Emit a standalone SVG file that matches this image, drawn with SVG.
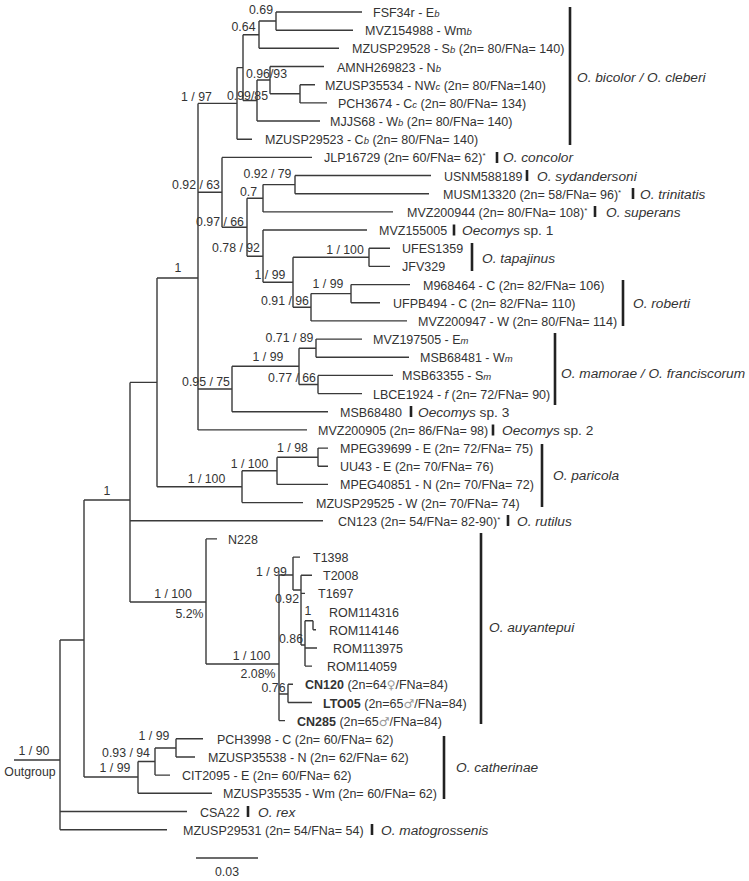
<svg xmlns="http://www.w3.org/2000/svg" width="749" height="881" viewBox="0 0 749 881">
<style>
text{font-family:"Liberation Sans",Arial,sans-serif;fill:#333}
.t{font-size:12.5px}
.s{font-size:12.3px;text-anchor:middle}
.c{font-size:13.7px;font-style:italic}
.i{font-style:italic;font-size:9.5px}
.u{font-size:8px}
.bd{font-weight:bold}
.sx{fill:#999;font-family:"DejaVu Sans",sans-serif;font-size:12px}
.br{fill:none;stroke:#3a3a3a;stroke-width:1.4}
.bar{stroke:#222;stroke-width:2.6}
</style>
<rect width="749" height="881" fill="#fff"/>
<g id="connectors" class="br">
<path d="M276 12V30.2M259 21V48.3M300 84.7V102.9M270 66.5V93.8M257 80V121M243 34.7V100.5M237 67.6V139.2M198 103.4V429.9M222 157.4V227.2M247 198.2V256.2M263 184.6V211.9M295 175.5V193.7M263 230V282.3M293 257.3V307.3M369 248.2V266.4M311 293.6V320.9M351 284.6V302.7M232 366.3V411.7M299 348.2V384.5M316 339.1V357.2M318 375.4V393.6M157 278V486.7M242 470.8V502.6M277 457.2V484.4M318 448.1V466.3M130 382.4V602M206 538.9V664M279 575V720.6M293 557.1V590M301 575.3V645M305 620.7V666.1M313 620.7V629.8M288 684.3V702.5M84 500V777M138 761.5V793.3M155 748V775.1M176 738.8V757M60 640V829.7"/>
<path d="M259 21H276M243 34.7H259M270 93.8H300M257 80H270M243 100.5H257M237 67.6H243M198 103.4H237M198 192.3H222M222 227.2H247M247 198.2H263M263 184.6H295M247 256.2H263M263 282.3H293M293 257.3H369M293 307.3H311M311 293.6H351M198 389H232M232 366.3H299M299 348.2H316M299 384.5H318M157 278H198M157 486.7H242M242 470.8H277M277 457.2H318M130 382.4H157M84 500H130M130 602H206M206 664H279M279 575H293M293 590H301M301 645H305M305 620.7H313M279 694H288M60 640H84M84 777H138M138 761.5H155M155 748H176M14 760H60"/>
<path d="M276 12H362M276 30.2H353M259 48.3H339M270 66.5H324M300 84.7H315M300 102.9H327M257 121H320M237 139.2H252M222 157.4H312M295 175.5H431M295 193.7H429M263 211.9H393M263 230H367M369 248.2H390M369 266.4H390M351 284.6H410M351 302.7H380M311 320.9H407M316 339.1H362M316 357.2H409M318 375.4H393M318 393.6H362M232 411.7H328M198 429.9H307M318 448.1H328M318 466.3H328M277 484.4H328M242 502.6H303M130 520.8H323M206 538.9H217M293 557.1H300M301 575.3H312M301 593.4H305M313 629.8H316M305 648H317M305 666.1H312M288 684.3H293M288 702.5H312M279 720.6H285M176 738.8H203M176 757H195M155 775.1H170M138 793.3H212M60 811.5H187M60 829.7H167"/>
</g>
<g id="node-A"><text class="s" x="261" y="13.5">0.69</text></g>
<g id="node-B"><text class="s" x="243.5" y="30.5">0.64</text></g>
<g id="node-C"><text class="s" x="266.5" y="77.5">0.96/93</text></g>
<g id="node-E"><text class="s" x="247.5" y="99.5">0.99/85</text></g>
<g id="node-G"><text class="s" x="196.5" y="100.5">1 / 97</text></g>
<g id="node-H"><text class="s" x="196" y="188.5">0.92 / 63</text></g>
<g id="node-J"><text class="s" x="267.5" y="177.5">0.92 / 79</text></g>
<g id="node-L"><text class="s" x="248.5" y="195.5">0.7</text></g>
<g id="node-I"><text class="s" x="220" y="225.5">0.97 / 66</text></g>
<g id="node-K"><text class="s" x="236" y="251.5">0.78 / 92</text></g>
<g id="node-N"><text class="s" x="345" y="253.5">1 / 100</text></g>
<g id="node-M"><text class="s" x="270" y="278.5">1 / 99</text></g>
<g id="node-P"><text class="s" x="328" y="287.5">1 / 99</text></g>
<g id="node-O"><text class="s" x="285" y="304.5">0.91 / 96</text></g>
<g id="node-S"><text class="s" x="289.5" y="341.5">0.71 / 89</text></g>
<g id="node-R"><text class="s" x="268" y="360.5">1 / 99</text></g>
<g id="node-T"><text class="s" x="292" y="381.5">0.77 / 66</text></g>
<g id="node-Q"><text class="s" x="206" y="385.5">0.95 / 75</text></g>
<g id="node-Y"><text class="s" x="178" y="271.5">1</text></g>
<g id="node-U"><text class="s" x="292.5" y="451.5">1 / 98</text></g>
<g id="node-V"><text class="s" x="249.5" y="467.5">1 / 100</text></g>
<g id="node-W"><text class="s" x="206.5" y="482.5">1 / 100</text></g>
<g id="node-X"/>
<g id="node-Z"><text class="s" x="107" y="494.5">1</text></g>
<g id="node-AA"><text class="s" x="173" y="597.5">1 / 100</text><text class="s" x="189.5" y="617.5">5.2%</text></g>
<g id="node-AC"><text class="s" x="271.5" y="575.5">1 / 99</text></g>
<g id="node-AE"><text class="s" x="287" y="602.5">0.92</text></g>
<g id="node-AG"><text class="s" x="308" y="614.5">1</text></g>
<g id="node-AF"><text class="s" x="291" y="642.5">0.86</text></g>
<g id="node-AB"><text class="s" x="251.5" y="659.5">1 / 100</text><text class="s" x="258" y="677.5">2.08%</text></g>
<g id="node-AD"><text class="s" x="273.5" y="691.5">0.76</text></g>
<g id="node-AJ"><text class="s" x="154" y="739.5">1 / 99</text></g>
<g id="node-AI"><text class="s" x="126" y="756.5">0.93 / 94</text></g>
<g id="node-AH"><text class="s" x="115" y="771.5">1 / 99</text></g>
<g id="node-BA"/>
<g id="node-root"><text class="s" x="34" y="754.5">1 / 90</text><text class="s" x="30" y="775.5">Outgroup</text></g>
<g id="leaves" class="t">
<g id="leaf-FSF34r"><text x="373" y="17">FSF34r - E<tspan class="i">b</tspan></text></g>
<g id="leaf-MVZ154988"><text x="365" y="35.2">MVZ154988 - Wm<tspan class="i">b</tspan></text></g>
<g id="leaf-MZUSP29528"><text x="352" y="53.3">MZUSP29528 - S<tspan class="i">b</tspan> (2n= 80/FNa= 140)</text></g>
<g id="leaf-AMNH269823"><text x="337" y="71.5">AMNH269823 - N<tspan class="i">b</tspan></text></g>
<g id="leaf-MZUSP35534"><text x="325" y="89.7">MZUSP35534 - NW<tspan class="i">c</tspan> (2n= 80/FNa=140)</text></g>
<g id="leaf-PCH3674"><text x="338" y="107.9">PCH3674 - C<tspan class="i">c</tspan> (2n= 80/FNa= 134)</text></g>
<g id="leaf-MJJS68"><text x="330" y="126">MJJS68 - W<tspan class="i">b</tspan> (2n= 80/FNa= 140)</text></g>
<g id="leaf-MZUSP29523"><text x="265" y="144.2">MZUSP29523 - C<tspan class="i">b</tspan> (2n= 80/FNa= 140)</text></g>
<g id="leaf-JLP16729"><text x="324" y="162.4">JLP16729 (2n= 60/FNa= 62)<tspan class="u" dy="-4">*</tspan></text></g>
<g id="leaf-USNM588189"><text x="444" y="180.5">USNM588189</text></g>
<g id="leaf-MUSM13320"><text x="443" y="198.7">MUSM13320 (2n= 58/FNa= 96)<tspan class="u" dy="-4">*</tspan></text></g>
<g id="leaf-MVZ200944"><text x="407" y="216.9">MVZ200944 (2n= 80/FNa= 108)<tspan class="u" dy="-4">*</tspan></text></g>
<g id="leaf-MVZ155005"><text x="379" y="235">MVZ155005</text></g>
<g id="leaf-UFES1359"><text x="402" y="253.2">UFES1359</text></g>
<g id="leaf-JFV329"><text x="402" y="271.4">JFV329</text></g>
<g id="leaf-M968464"><text x="423" y="289.6">M968464 - C (2n= 82/FNa= 106)</text></g>
<g id="leaf-UFPB494"><text x="393" y="307.7">UFPB494 - C (2n= 82/FNa= 110)</text></g>
<g id="leaf-MVZ200947"><text x="418" y="325.9">MVZ200947 - W (2n= 80/FNa= 114)</text></g>
<g id="leaf-MVZ197505"><text x="373" y="344.1">MVZ197505 - E<tspan class="i">m</tspan></text></g>
<g id="leaf-MSB68481"><text x="420" y="362.2">MSB68481 - W<tspan class="i">m</tspan></text></g>
<g id="leaf-MSB63355"><text x="402" y="380.4">MSB63355 - S<tspan class="i">m</tspan></text></g>
<g id="leaf-LBCE1924"><text x="373" y="398.6">LBCE1924 - <tspan font-style="italic">f</tspan> (2n= 72/FNa= 90)</text></g>
<g id="leaf-MSB68480"><text x="340" y="416.7">MSB68480</text></g>
<g id="leaf-MVZ200905"><text x="318" y="434.9">MVZ200905 (2n= 86/FNa= 98)</text></g>
<g id="leaf-MPEG39699"><text x="340" y="453.1">MPEG39699 - E (2n= 72/FNa= 75)</text></g>
<g id="leaf-UU43"><text x="340" y="471.3">UU43 - E (2n= 70/FNa= 76)</text></g>
<g id="leaf-MPEG40851"><text x="340" y="489.4">MPEG40851 - N (2n= 70/FNa= 72)</text></g>
<g id="leaf-MZUSP29525"><text x="316" y="507.6">MZUSP29525 - W (2n= 70/FNa= 74)</text></g>
<g id="leaf-CN123"><text x="338" y="525.8">CN123 (2n= 54/FNa= 82-90)<tspan class="u" dy="-4">*</tspan></text></g>
<g id="leaf-N228"><text x="228" y="543.9">N228</text></g>
<g id="leaf-T1398"><text x="313" y="562.1">T1398</text></g>
<g id="leaf-T2008"><text x="323" y="580.3">T2008</text></g>
<g id="leaf-T1697"><text x="318" y="598.4">T1697</text></g>
<g id="leaf-ROM114316"><text x="329" y="616.6">ROM114316</text></g>
<g id="leaf-ROM114146"><text x="329" y="634.8">ROM114146</text></g>
<g id="leaf-ROM113975"><text x="333" y="653">ROM113975</text></g>
<g id="leaf-ROM114059"><text x="327" y="671.1">ROM114059</text></g>
<g id="leaf-CN120"><text x="305" y="689.3"><tspan class="bd">CN120</tspan> (2n=64<tspan class="sx">♀</tspan>/FNa=84)</text></g>
<g id="leaf-LTO05"><text x="323" y="707.5"><tspan class="bd">LTO05</tspan> (2n=65<tspan class="sx">♂</tspan>/FNa=84)</text></g>
<g id="leaf-CN285"><text x="297" y="725.6"><tspan class="bd">CN285</tspan> (2n=65<tspan class="sx">♂</tspan>/FNa=84)</text></g>
<g id="leaf-PCH3998"><text x="217" y="743.8">PCH3998 - C (2n= 60/FNa= 62)</text></g>
<g id="leaf-MZUSP35538"><text x="208" y="762">MZUSP35538 - N (2n= 62/FNa= 62)</text></g>
<g id="leaf-CIT2095"><text x="182" y="780.1">CIT2095 - E (2n= 60/FNa= 62)</text></g>
<g id="leaf-MZUSP35535"><text x="223" y="798.3">MZUSP35535 - Wm (2n= 60/FNa= 62)</text></g>
<g id="leaf-CSA22"><text x="200" y="816.5">CSA22</text></g>
<g id="leaf-MZUSP29531"><text x="183" y="834.7">MZUSP29531 (2n= 54/FNa= 54)</text></g>
</g>
<g id="clades">
<g id="clade-bicolor"><line class="bar" x1="570" y1="7" x2="570" y2="145"/><text class="c" x="577" y="82">O. bicolor / O. cleberi</text></g>
<g id="clade-concolor"><line class="bar" x1="497" y1="152" x2="497" y2="163"/><text class="c" x="503" y="162.4">O. concolor</text></g>
<g id="clade-sydandersoni"><line class="bar" x1="527" y1="170" x2="527" y2="181"/><text class="c" x="537" y="180.5">O. sydandersoni</text></g>
<g id="clade-trinitatis"><line class="bar" x1="633" y1="188" x2="633" y2="199"/><text class="c" x="640" y="198.7">O. trinitatis</text></g>
<g id="clade-superans"><line class="bar" x1="595" y1="206" x2="595" y2="217"/><text class="c" x="606" y="216.9">O. superans</text></g>
<g id="clade-sp1"><line class="bar" x1="454" y1="224.5" x2="454" y2="235.5"/><text class="c" x="462" y="235"><tspan>Oecomys</tspan><tspan font-style="normal"> sp. 1</tspan></text></g>
<g id="clade-tapajinus"><line class="bar" x1="472" y1="243" x2="472" y2="271"/><text class="c" x="482" y="263">O. tapajinus</text></g>
<g id="clade-roberti"><line class="bar" x1="623" y1="280" x2="623" y2="326"/><text class="c" x="633" y="308">O. roberti</text></g>
<g id="clade-mamorae"><line class="bar" x1="555" y1="333" x2="555" y2="405"/><text class="c" x="561" y="378">O. mamorae / O. franciscorum</text></g>
<g id="clade-sp3"><line class="bar" x1="411" y1="406" x2="411" y2="417"/><text class="c" x="418" y="416.7"><tspan>Oecomys</tspan><tspan font-style="normal"> sp. 3</tspan></text></g>
<g id="clade-sp2"><line class="bar" x1="493" y1="424.5" x2="493" y2="435.5"/><text class="c" x="502" y="434.9"><tspan>Oecomys</tspan><tspan font-style="normal"> sp. 2</tspan></text></g>
<g id="clade-paricola"><line class="bar" x1="542" y1="444" x2="542" y2="507"/><text class="c" x="553" y="480">O. paricola</text></g>
<g id="clade-rutilus"><line class="bar" x1="508" y1="515" x2="508" y2="526"/><text class="c" x="517" y="525.8">O. rutilus</text></g>
<g id="clade-auyantepui"><line class="bar" x1="481" y1="533" x2="481" y2="724"/><text class="c" x="489" y="632">O. auyantepui</text></g>
<g id="clade-catherinae"><line class="bar" x1="444" y1="736" x2="444" y2="799"/><text class="c" x="456" y="772">O. catherinae</text></g>
<g id="clade-rex"><line class="bar" x1="248" y1="806" x2="248" y2="817"/><text class="c" x="258" y="816.5">O. rex</text></g>
<g id="clade-matogrossenis"><line class="bar" x1="372" y1="824" x2="372" y2="835"/><text class="c" x="381" y="834.7">O. matogrossenis</text></g>
</g>
<g id="scale"><line x1="196" y1="858" x2="258" y2="858" stroke="#3a3a3a" stroke-width="1.4"/><text class="s" x="227" y="876">0.03</text></g>
</svg>
